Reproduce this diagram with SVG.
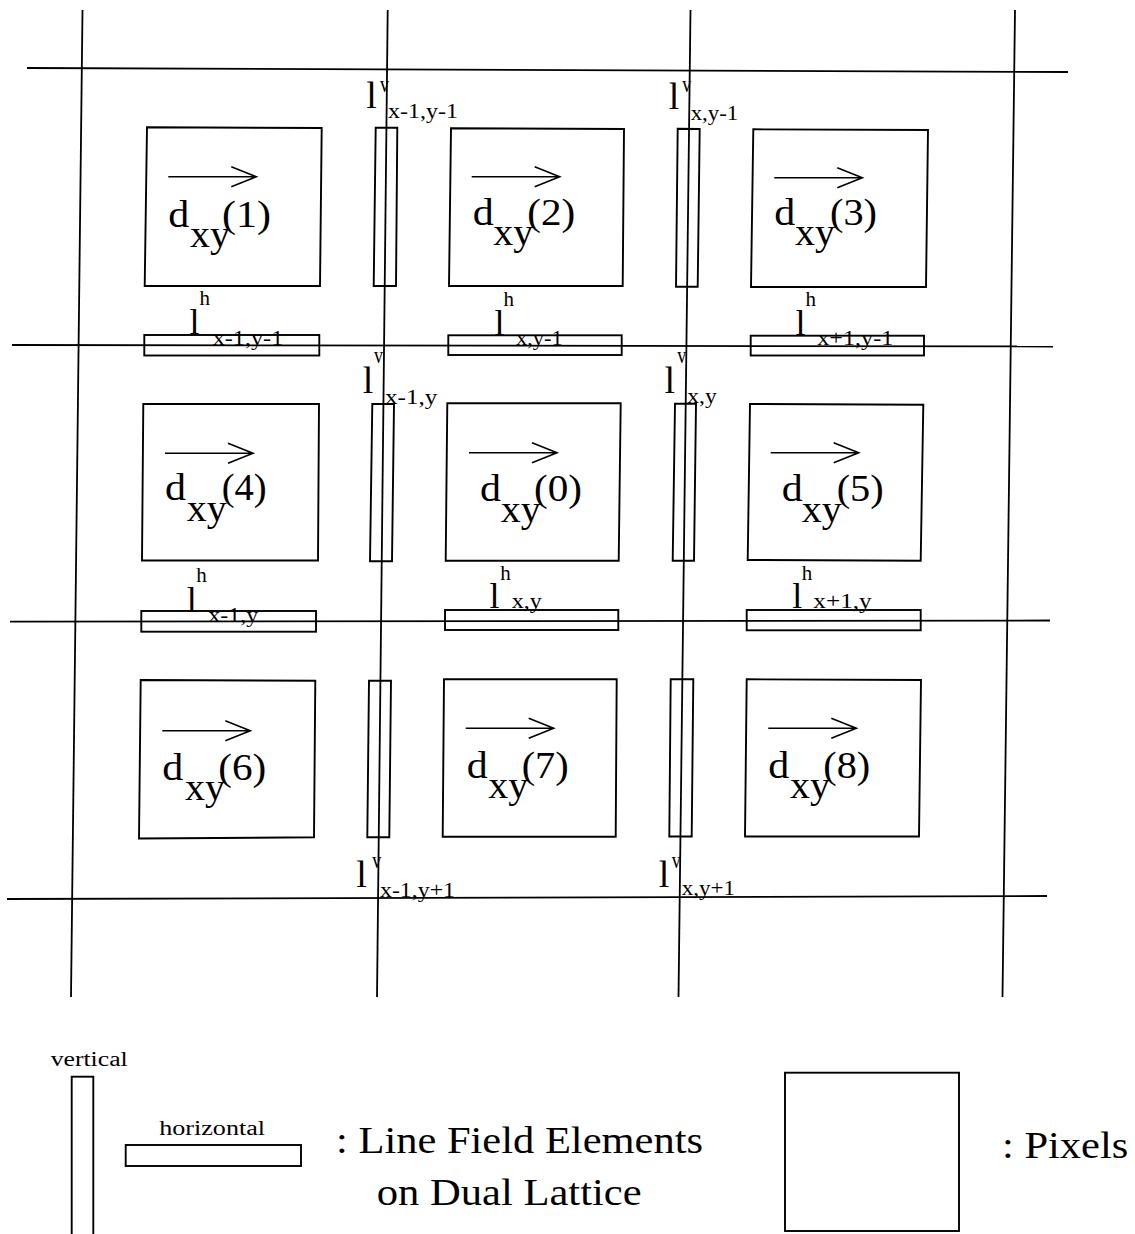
<svg xmlns="http://www.w3.org/2000/svg" xmlns:xlink="http://www.w3.org/1999/xlink" width="1135" height="1234" viewBox="0 0 1135 1234">
<style>
.grid{stroke:#000;stroke-width:1.8;fill:none}
.box{fill:none;stroke:#000;stroke-width:1.9;stroke-linejoin:miter}
.arr{fill:none;stroke:#000;stroke-width:1.6}
.t{font-family:"Liberation Serif","Times New Roman",serif;fill:#000}
.big{font-size:37px}
.l{font-size:38px}
.lh{font-size:36px}
.sup{font-size:21px}
.supv{font-size:23px}
.sub{font-size:22px}
.leg{font-size:38px}
.small{font-size:20px}
</style>
<defs>
<path id="arrow" d="M0,0 H88 M63,-10 L88,0 L63,10"/>
</defs>
<rect width="1135" height="1234" fill="#fff"/>

<g id="lattice">
<line class="grid" x1="82.5" y1="10" x2="71" y2="997"/>
<line class="grid" x1="387.7" y1="10" x2="377" y2="997"/>
<line class="grid" x1="690.5" y1="10" x2="678.5" y2="997"/>
<line class="grid" x1="1015" y1="10" x2="1002.5" y2="997"/>
<line class="grid" x1="27" y1="68" x2="1068" y2="72"/>
<line class="grid" x1="12" y1="345" x2="1053" y2="346.5"/>
<line class="grid" x1="10" y1="621.7" x2="1050" y2="620.5"/>
<line class="grid" x1="7" y1="899" x2="1047" y2="896"/>
</g>

<g id="pixel-1">
<polygon class="box" points="147,127.3 321.7,128 320,286 144.7,286"/>
<use href="#arrow" class="arr" x="168.3" y="176.7"/>
<text class="t big" x="168.3" y="226.7" textLength="21" lengthAdjust="spacingAndGlyphs">d</text>
<text class="t big" x="190" y="246.7" textLength="40" lengthAdjust="spacingAndGlyphs">xy</text>
<text class="t big" x="222" y="226.7" textLength="49" lengthAdjust="spacingAndGlyphs">(1)</text>
</g>
<g id="pixel-2">
<polygon class="box" points="451,128.3 624,129 622.7,286 449,286"/>
<use href="#arrow" class="arr" x="471.7" y="176.7"/>
<text class="t big" x="472.7" y="225" textLength="21" lengthAdjust="spacingAndGlyphs">d</text>
<text class="t big" x="493.3" y="245" textLength="40" lengthAdjust="spacingAndGlyphs">xy</text>
<text class="t big" x="527.3" y="225" textLength="48" lengthAdjust="spacingAndGlyphs">(2)</text>
</g>
<g id="pixel-3">
<polygon class="box" points="753.3,129.3 928,130 926,287 751,287"/>
<use href="#arrow" class="arr" x="774.3" y="177.7"/>
<text class="t big" x="774.3" y="225" textLength="21" lengthAdjust="spacingAndGlyphs">d</text>
<text class="t big" x="795" y="245" textLength="40" lengthAdjust="spacingAndGlyphs">xy</text>
<text class="t big" x="830" y="225" textLength="47" lengthAdjust="spacingAndGlyphs">(3)</text>
</g>
<g id="pixel-4">
<polygon class="box" points="143.3,404 319,404 318,560.5 142,560.5"/>
<use href="#arrow" class="arr" x="165" y="453.3"/>
<text class="t big" x="165" y="500" textLength="21" lengthAdjust="spacingAndGlyphs">d</text>
<text class="t big" x="186.7" y="521" textLength="40" lengthAdjust="spacingAndGlyphs">xy</text>
<text class="t big" x="221.7" y="500" textLength="45" lengthAdjust="spacingAndGlyphs">(4)</text>
</g>
<g id="pixel-0">
<polygon class="box" points="447.3,403.3 620.7,403.3 618.7,560.7 445.7,560.7"/>
<use href="#arrow" class="arr" x="469" y="452.7"/>
<text class="t big" x="480" y="500.7" textLength="21" lengthAdjust="spacingAndGlyphs">d</text>
<text class="t big" x="500.7" y="521.7" textLength="40" lengthAdjust="spacingAndGlyphs">xy</text>
<text class="t big" x="534" y="500.7" textLength="48" lengthAdjust="spacingAndGlyphs">(0)</text>
</g>
<g id="pixel-5">
<polygon class="box" points="750,404 923.3,404.7 920.7,560.7 747.7,560"/>
<use href="#arrow" class="arr" x="770.7" y="452.7"/>
<text class="t big" x="781.7" y="500.7" textLength="21" lengthAdjust="spacingAndGlyphs">d</text>
<text class="t big" x="801.7" y="521.7" textLength="40" lengthAdjust="spacingAndGlyphs">xy</text>
<text class="t big" x="836.7" y="500.7" textLength="47" lengthAdjust="spacingAndGlyphs">(5)</text>
</g>
<g id="pixel-6">
<polygon class="box" points="140.7,680 315.3,680.7 314,837.3 139,838.5"/>
<use href="#arrow" class="arr" x="162.3" y="730.7"/>
<text class="t big" x="162.3" y="780" textLength="21" lengthAdjust="spacingAndGlyphs">d</text>
<text class="t big" x="185" y="800" textLength="40" lengthAdjust="spacingAndGlyphs">xy</text>
<text class="t big" x="218.3" y="780" textLength="48" lengthAdjust="spacingAndGlyphs">(6)</text>
</g>
<g id="pixel-7">
<polygon class="box" points="444,679.3 616.7,679.3 615.7,836.7 442.7,836.7"/>
<use href="#arrow" class="arr" x="465.7" y="728.3"/>
<text class="t big" x="466.7" y="778.3" textLength="21" lengthAdjust="spacingAndGlyphs">d</text>
<text class="t big" x="488.3" y="798.3" textLength="40" lengthAdjust="spacingAndGlyphs">xy</text>
<text class="t big" x="521.7" y="778.3" textLength="47" lengthAdjust="spacingAndGlyphs">(7)</text>
</g>
<g id="pixel-8">
<polygon class="box" points="746.7,679.3 921,680 919,836.5 745,836.5"/>
<use href="#arrow" class="arr" x="768.3" y="728.3"/>
<text class="t big" x="768.3" y="778.3" textLength="21" lengthAdjust="spacingAndGlyphs">d</text>
<text class="t big" x="790" y="798.3" textLength="40" lengthAdjust="spacingAndGlyphs">xy</text>
<text class="t big" x="823.3" y="778.3" textLength="47" lengthAdjust="spacingAndGlyphs">(8)</text>
</g>

<g id="lv-xm1-ym1">
<polygon class="box" points="375.7,127.7 397.3,127.7 396,286 373.7,286"/>
<text class="t l" x="366.2" y="108.3">l</text>
<text class="t supv" x="380" y="92" textLength="9" lengthAdjust="spacingAndGlyphs">v</text>
<text class="t sub" x="388" y="118.3" textLength="70" lengthAdjust="spacingAndGlyphs">x-1,y-1</text>
</g>
<g id="lv-x-ym1">
<polygon class="box" points="677.7,128.7 699.7,129 697.7,286.7 676,286.7"/>
<text class="t l" x="668.8" y="109.3">l</text>
<text class="t supv" x="682.3" y="92" textLength="9" lengthAdjust="spacingAndGlyphs">v</text>
<text class="t sub" x="690.7" y="120" textLength="47.6" lengthAdjust="spacingAndGlyphs">x,y-1</text>
</g>
<g id="lh-xm1-ym1">
<rect class="box" x="144.3" y="335" width="175" height="20.5"/>
<text class="t sup" x="199.5" y="305">h</text>
<text class="t lh" x="189.5" y="334">l</text>
<text class="t sub" x="212.7" y="345" textLength="70.6" lengthAdjust="spacingAndGlyphs">x-1,y-1</text>
</g>
<g id="lh-x-ym1">
<rect class="box" x="448.3" y="335.3" width="173.4" height="19.7"/>
<text class="t sup" x="503.5" y="305.7">h</text>
<text class="t lh" x="494.5" y="335">l</text>
<text class="t sub" x="516" y="345" textLength="46.7" lengthAdjust="spacingAndGlyphs">x,y-1</text>
</g>
<g id="lh-xp1-ym1">
<rect class="box" x="750.7" y="335.7" width="173.3" height="19.8"/>
<text class="t sup" x="805.5" y="305.7">h</text>
<text class="t lh" x="795.5" y="335">l</text>
<text class="t sub" x="817.3" y="345" textLength="76" lengthAdjust="spacingAndGlyphs">x+1,y-1</text>
</g>
<g id="lv-xm1-y">
<polygon class="box" points="372.3,404 394,404 392,561.3 370,561.3"/>
<text class="t l" x="362.8" y="393.3">l</text>
<text class="t supv" x="374" y="363.3" textLength="9" lengthAdjust="spacingAndGlyphs">v</text>
<text class="t sub" x="385" y="403.5" textLength="52.3" lengthAdjust="spacingAndGlyphs">x-1,y</text>
</g>
<g id="lv-x-y">
<polygon class="box" points="675,403.7 696,403.7 694,560.7 672.7,560.7"/>
<text class="t l" x="664.5" y="393.3">l</text>
<text class="t supv" x="677.3" y="363.3" textLength="9" lengthAdjust="spacingAndGlyphs">v</text>
<text class="t sub" x="687.3" y="403" textLength="29.4" lengthAdjust="spacingAndGlyphs">x,y</text>
</g>
<g id="lh-xm1-y">
<rect class="box" x="141.3" y="611" width="174.7" height="20.7"/>
<text class="t sup" x="196.2" y="581.7">h</text>
<text class="t lh" x="186.8" y="611.7">l</text>
<text class="t sub" x="208.3" y="621.7" textLength="50" lengthAdjust="spacingAndGlyphs">x-1,y</text>
</g>
<g id="lh-x-y">
<rect class="box" x="445" y="610" width="173.3" height="20"/>
<text class="t sup" x="500.2" y="580">h</text>
<text class="t lh" x="489.5" y="608.3">l</text>
<text class="t sub" x="511.7" y="608.3" textLength="30" lengthAdjust="spacingAndGlyphs">x,y</text>
</g>
<g id="lh-xp1-y">
<rect class="box" x="746.7" y="610" width="174" height="20.3"/>
<text class="t sup" x="801.8" y="580">h</text>
<text class="t lh" x="792.2" y="608.3">l</text>
<text class="t sub" x="813.3" y="608.3" textLength="58.4" lengthAdjust="spacingAndGlyphs">x+1,y</text>
</g>
<g id="lv-xm1-yp1">
<polygon class="box" points="369,680.7 391,680.7 389.3,837.3 367.3,837.3"/>
<text class="t l" x="356.2" y="886.7">l</text>
<text class="t supv" x="372.3" y="868.3" textLength="9" lengthAdjust="spacingAndGlyphs">v</text>
<text class="t sub" x="380" y="896.7" textLength="75" lengthAdjust="spacingAndGlyphs">x-1,y+1</text>
</g>
<g id="lv-x-yp1">
<polygon class="box" points="670.7,679.3 693.3,679.3 691.7,836.5 669.3,836.5"/>
<text class="t l" x="658.8" y="886.7">l</text>
<text class="t supv" x="671.7" y="868.3" textLength="9" lengthAdjust="spacingAndGlyphs">v</text>
<text class="t sub" x="681.7" y="895" textLength="53.3" lengthAdjust="spacingAndGlyphs">x,y+1</text>
</g>

<g id="legend-line-field">
<text class="t small" x="50.7" y="1066" textLength="77" lengthAdjust="spacingAndGlyphs">vertical</text>
<rect class="box" x="71.7" y="1076.7" width="21.6" height="170"/>
<text class="t small" x="159.3" y="1135" textLength="105.7" lengthAdjust="spacingAndGlyphs">horizontal</text>
<rect class="box" x="125.7" y="1145" width="175.3" height="21"/>
<text class="t leg" x="336" y="1153" textLength="367" lengthAdjust="spacingAndGlyphs">: Line Field Elements</text>
<text class="t leg" x="376.7" y="1205" textLength="265" lengthAdjust="spacingAndGlyphs">on Dual Lattice</text>
</g>
<g id="legend-pixels">
<rect class="box" x="785" y="1072.7" width="174" height="158.3"/>
<text class="t leg" x="1002" y="1158.3" textLength="126.3" lengthAdjust="spacingAndGlyphs">: Pixels</text>
</g>
</svg>
